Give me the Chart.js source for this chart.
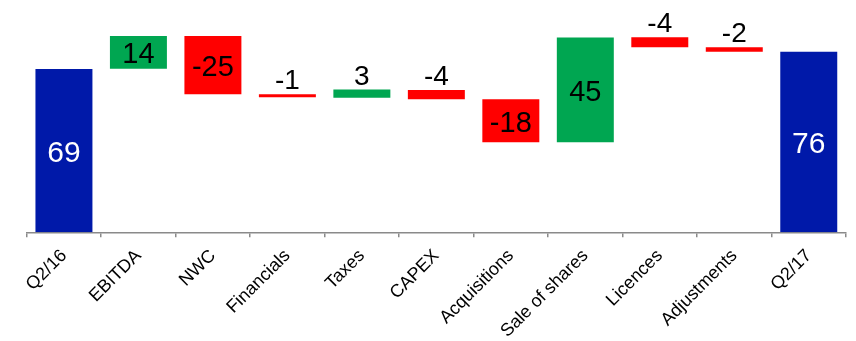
<!DOCTYPE html>
<html>
<head>
<meta charset="utf-8">
<script src="https://cdn.jsdelivr.net/npm/chart.js@4"></script>
<style>
  html, body { margin: 0; padding: 0; background: #fff; }
  #wrap { width: 856px; height: 341px; position: relative; }
</style>
</head>
<body>
<div id="wrap"><canvas id="c" width="856" height="341"></canvas></div>
<script>
// Categories (x-axis tick labels)
const categories = ['Q2/16', 'EBITDA', 'NWC', 'Financials', 'Taxes', 'CAPEX', 'Acquisitions', 'Sale of shares', 'Licences', 'Adjustments', 'Q2/17'];
// Displayed value labels (changes / totals)
const valueLabels = [69, 14, -25, -1, 3, -4, -18, 45, -4, -2, 76];
// Bar start and end levels
const barStarts = [0, 69.0, 82.8, 58.2, 56.8, 60.0, 56.1, 38.0, 82.3, 78.1, 0];
const barEnds   = [68.9, 82.8, 58.2, 57.0, 60.2, 56.1, 38.0, 82.2, 78.1, 76.2, 76.2];
// Which bars are totals
const isTotal = [true, false, false, false, false, false, false, false, false, false, true];

const BLUE = '#0019A9', GREEN = '#00A651', RED = '#FF0000';
const colors = valueLabels.map((v, i) => isTotal[i] ? BLUE : (v >= 0 ? GREEN : RED));

const labelPlugin = {
  id: 'wfLabels',
  afterDatasetsDraw(chart) {
    const ctx = chart.ctx;
    const meta = chart.getDatasetMeta(0);
    ctx.save();
    ctx.textAlign = 'center';
    meta.data.forEach((bar, i) => {
      const top = Math.min(bar.y, bar.base);
      const bottom = Math.max(bar.y, bar.base);
      const h = bottom - top;
      const txt = String(valueLabels[i]);
      if (h > 24) {
        ctx.font = (isTotal[i] ? '30px' : '29px') + ' "Liberation Sans", Arial, sans-serif';
        ctx.fillStyle = isTotal[i] ? '#ffffff' : '#000000';
        ctx.textBaseline = 'middle';
        ctx.fillText(txt, bar.x, (top + bottom) / 2 + 3);
      } else {
        ctx.font = '28px "Liberation Sans", Arial, sans-serif';
        ctx.fillStyle = '#000000';
        ctx.textBaseline = 'alphabetic';
        ctx.fillText(txt, bar.x, top - 5);
      }
    });
    ctx.restore();
  }
};

new Chart(document.getElementById('c'), {
  type: 'bar',
  data: {
    labels: categories,
    datasets: [{
      data: categories.map((c, i) => [barStarts[i], barEnds[i]]),
      backgroundColor: colors,
      borderWidth: 0,
      borderSkipped: false,
      categoryPercentage: 1.0,
      barPercentage: 0.765
    }]
  },
  options: {
    responsive: false,
    animation: false,
    devicePixelRatio: 1,
    layout: { padding: { left: 26.7, right: 10, top: 0, bottom: 0 } },
    plugins: { legend: { display: false }, tooltip: { enabled: false } },
    scales: {
      x: {
        grid: { display: true, drawOnChartArea: false, drawTicks: true, tickLength: 5, color: '#8a8a8a', lineWidth: 1.5, offset: true },
        border: { display: true, color: '#8a8a8a', width: 1.5 },
        ticks: {
          color: '#000',
          font: { family: '"Liberation Sans", Arial, sans-serif', size: 18 },
          minRotation: 45, maxRotation: 45, padding: 8, autoSkip: false
        },
        afterFit(scale) { scale.height = 108.7; }
      },
      y: {
        display: false,
        min: 0,
        max: 98
      }
    }
  },
  plugins: [labelPlugin]
});
</script>
</body>
</html>
